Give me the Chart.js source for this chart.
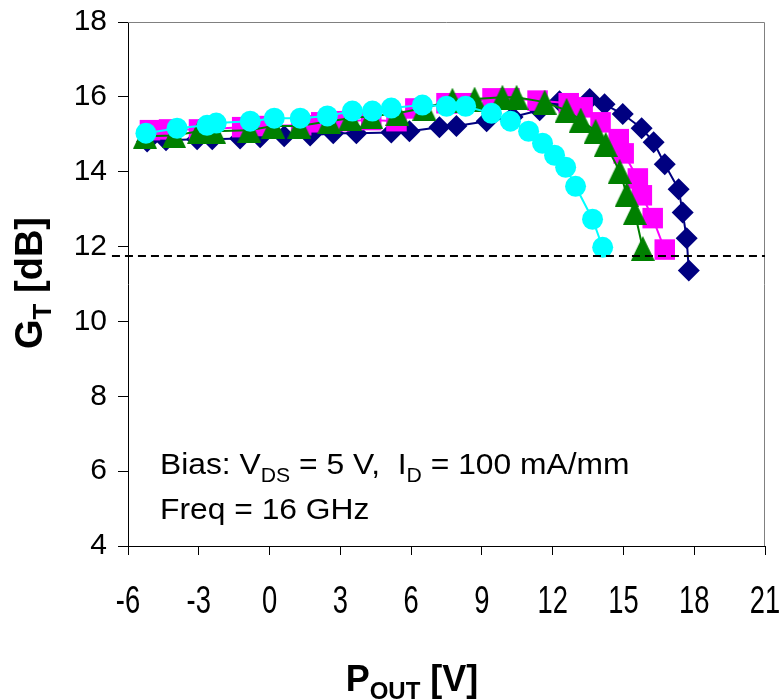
<!DOCTYPE html>
<html>
<head>
<meta charset="utf-8">
<script src="https://cdn.jsdelivr.net/npm/chart.js@4.4.1/dist/chart.umd.min.js"></script>
<style>
  html, body { margin: 0; padding: 0; background: #fff; }
</style>
</head>
<body>
<canvas id="chart" width="780" height="700"></canvas>
<script>
// Values: P_OUT (x) and G_T in dB (y) for each trace
var navyX = [-5.19, -4.39, -3.07, -2.43, -1.25, -0.40, 0.62, 1.72, 2.70, 3.68, 5.16, 5.93, 7.20, 7.92, 9.20, 10.30, 11.45, 12.29, 13.57, 14.20, 14.97, 15.77, 16.28, 16.75, 17.34, 17.51, 17.68, 17.77];
var navyY = [14.81, 14.84, 14.87, 14.87, 14.89, 14.92, 14.95, 14.97, 15.03, 15.03, 15.05, 15.08, 15.19, 15.22, 15.35, 15.46, 15.64, 15.88, 15.94, 15.80, 15.54, 15.16, 14.79, 14.20, 13.53, 12.91, 12.22, 11.36];

var magentaX = [-5.07, -4.26, -2.99, -1.16, -0.52, 1.34, 2.19, 2.96, 4.31, 5.38, 6.18, 7.50, 8.18, 9.45, 10.17, 11.36, 12.68, 13.27, 14.03, 14.80, 15.01, 15.61, 15.78, 16.24, 16.75];
var magentaY = [15.11, 15.13, 15.13, 15.19, 15.22, 15.24, 15.32, 15.35, 15.38, 15.35, 15.69, 15.83, 15.83, 15.96, 15.96, 15.90, 15.83, 15.72, 15.32, 14.87, 14.49, 13.82, 13.37, 12.76, 11.92];

var greenX = [-5.28, -4.05, -2.99, -2.35, -0.86, 0.15, 1.26, 2.53, 3.42, 4.31, 5.42, 6.56, 7.75, 8.69, 9.87, 10.47, 11.66, 12.59, 13.19, 13.82, 14.25, 14.84, 15.14, 15.48, 15.82];
var greenY = [14.95, 14.97, 15.08, 15.08, 15.11, 15.22, 15.22, 15.35, 15.43, 15.48, 15.56, 15.70, 15.91, 15.94, 15.99, 15.99, 15.86, 15.64, 15.38, 15.08, 14.73, 14.01, 13.40, 12.91, 11.95];

var cyanX = [-5.24, -3.92, -2.65, -2.26, -0.82, 0.20, 1.30, 2.45, 3.51, 4.36, 5.16, 6.48, 7.50, 8.31, 9.41, 10.21, 10.98, 11.57, 12.08, 12.55, 12.97, 13.69, 14.12];
var cyanY = [15.03, 15.16, 15.24, 15.30, 15.35, 15.43, 15.43, 15.49, 15.62, 15.62, 15.70, 15.78, 15.75, 15.75, 15.56, 15.35, 15.08, 14.76, 14.44, 14.12, 13.61, 12.73, 11.98];

// dashed reference level and the span it covers
var refLevel = 11.75;
var refFromTo = [-6.68, 21];

// axis tick values
var xTicks = [-6, -3, 0, 3, 6, 9, 12, 15, 18, 21];
var yTicks = [4, 6, 8, 10, 12, 14, 16, 18];

function pairs(xs, ys) {
  return xs.map(function (x, i) { return { x: x, y: ys[i] }; });
}

// Excel-like triangle marker (a bit taller than wide)
function triangleMark(w, h, color) {
  var c = document.createElement('canvas');
  c.width = w; c.height = h;
  var g = c.getContext('2d');
  g.fillStyle = color;
  g.beginPath();
  g.moveTo(w / 2, 0);
  g.lineTo(w, h);
  g.lineTo(0, h);
  g.closePath();
  g.fill();
  return c;
}

var FONT = '"Liberation Sans", Arial, sans-serif';
Chart.defaults.font.family = FONT;
Chart.defaults.color = '#000';

// text made of runs (normal + subscript)
function runsWidth(ctx, runs) {
  var total = 0;
  runs.forEach(function (r) { ctx.font = r.font; total += ctx.measureText(r.t).width; });
  return total;
}
function drawRuns(ctx, runs, x, y) {
  var cx = x;
  runs.forEach(function (r) {
    ctx.font = r.font;
    ctx.fillText(r.t, cx, y + (r.dy || 0));
    cx += ctx.measureText(r.t).width;
  });
}

var decor = {
  id: 'decor',
  beforeDatasetsDraw: function (chart) {
    var a = chart.chartArea, ctx = chart.ctx;
    ctx.save();
    ctx.strokeStyle = '#808080';
    ctx.lineWidth = 1;
    ctx.beginPath();
    ctx.moveTo(a.left, a.top + 0.5);
    ctx.lineTo(a.right - 0.5, a.top + 0.5);
    ctx.lineTo(a.right - 0.5, a.bottom);
    ctx.stroke();
    ctx.restore();
  },
  afterDraw: function (chart) {
    var ctx = chart.ctx, xs = chart.scales.x;
    ctx.save();
    ctx.fillStyle = '#000';

    // x tick labels, narrow face like the original
    ctx.textAlign = 'center';
    ctx.textBaseline = 'middle';
    ctx.font = '38px ' + FONT;
    xTicks.forEach(function (v) {
      ctx.save();
      ctx.translate(xs.getPixelForValue(v), 603);
      ctx.scale(0.72, 1);
      ctx.fillText(String(v), 0, 0);
      ctx.restore();
    });

    ctx.textAlign = 'left';
    ctx.textBaseline = 'alphabetic';

    // annotation
    var n = '30px ' + FONT, s = '20px ' + FONT;
    ctx.save();
    ctx.translate(160, 0);
    ctx.scale(1.06, 1);
    drawRuns(ctx, [
      { t: 'Bias: V', font: n }, { t: 'DS', font: s, dy: 8 },
      { t: ' = 5 V,  I', font: n }, { t: 'D', font: s, dy: 8 },
      { t: ' = 100 mA/mm', font: n }
    ], 0, 474);
    drawRuns(ctx, [{ t: 'Freq = 16 GHz', font: n }], 0, 519);
    ctx.restore();

    // x axis title
    var bx = 'bold 36px ' + FONT, bxs = 'bold 24px ' + FONT;
    var xr = [{ t: 'P', font: bx }, { t: 'OUT', font: bxs, dy: 8 }, { t: ' [V]', font: bx }];
    drawRuns(ctx, xr, 412 - runsWidth(ctx, xr) / 2, 691);

    // y axis title
    var by = 'bold 38px ' + FONT, bys = 'bold 26px ' + FONT;
    var yr = [{ t: 'G', font: by }, { t: 'T', font: bys, dy: 9 }, { t: ' [dB]', font: by }];
    ctx.translate(28, 283);
    ctx.rotate(-Math.PI / 2);
    drawRuns(ctx, yr, -runsWidth(ctx, yr) / 2, 14);
    ctx.restore();
  }
};

var markerLine = 2;

new Chart(document.getElementById('chart'), {
  type: 'scatter',
  data: {
    datasets: [
      {
        label: 'ref',
        data: [{ x: refFromTo[0], y: refLevel }, { x: refFromTo[1], y: refLevel }],
        showLine: true, borderColor: '#000', borderWidth: 2, borderDash: [8, 5],
        pointRadius: 0, clip: false
      },
      {
        label: 'cyan', data: pairs(cyanX, cyanY), showLine: true,
        borderColor: '#00FFFF', borderWidth: markerLine,
        pointStyle: 'circle', pointRadius: 10.5,
        pointBackgroundColor: '#00FFFF', pointBorderColor: '#00FFFF', pointBorderWidth: 0
      },
      {
        label: 'green', data: pairs(greenX, greenY), showLine: true,
        borderColor: '#008000', borderWidth: markerLine,
        pointStyle: triangleMark(24, 25, '#008000'), pointRadius: 12,
        pointBackgroundColor: '#008000', pointBorderColor: '#008000', pointBorderWidth: 0
      },
      {
        label: 'magenta', data: pairs(magentaX, magentaY), showLine: true,
        borderColor: '#FF00FF', borderWidth: markerLine,
        pointStyle: 'rect', pointRadius: 14.5,
        pointBackgroundColor: '#FF00FF', pointBorderColor: '#FF00FF', pointBorderWidth: 0
      },
      {
        label: 'navy', data: pairs(navyX, navyY), showLine: true,
        borderColor: '#000080', borderWidth: markerLine,
        pointStyle: 'rectRot', pointRadius: 11,
        pointBackgroundColor: '#000080', pointBorderColor: '#000080', pointBorderWidth: 0
      }
    ]
  },
  options: {
    responsive: false,
    animation: false,
    layout: { padding: { left: 0, right: 15, top: 22, bottom: 0 } },
    plugins: { legend: { display: false }, tooltip: { enabled: false } },
    scales: {
      x: {
        type: 'linear',
        min: xTicks[0], max: xTicks[xTicks.length - 1],
        ticks: { display: false, stepSize: xTicks[1] - xTicks[0] },
        grid: { drawOnChartArea: false, drawTicks: true, tickLength: 9, color: '#000' },
        border: { display: true, color: '#000', width: 1 },
        afterFit: function (s) { s.height = 154; s.paddingLeft = 0; s.paddingRight = 0; }
      },
      y: {
        type: 'linear',
        min: yTicks[0], max: yTicks[yTicks.length - 1],
        ticks: { stepSize: yTicks[1] - yTicks[0], padding: 11, font: { size: 30 }, color: '#000' },
        grid: { drawOnChartArea: false, drawTicks: true, tickLength: 10, color: '#000' },
        border: { display: true, color: '#000', width: 1 },
        afterFit: function (s) { s.width = 128; s.paddingTop = 0; s.paddingBottom = 0; }
      }
    }
  },
  plugins: [decor]
});
</script>
</body>
</html>
